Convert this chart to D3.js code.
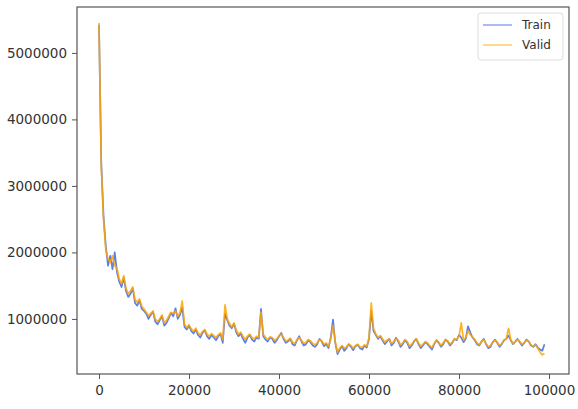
<!DOCTYPE html>
<html>
<head>
<meta charset="utf-8">
<script src="https://cdn.jsdelivr.net/npm/d3@7"></script>
<style>
  body { margin: 0; background: #fff; }
  svg text { font-family: "DejaVu Sans", sans-serif; fill: #333; }
</style>
</head>
<body>
<svg id="chart"></svg>
<script>
// training steps, every 500
var steps = d3.range(0, 99001, 500);

// loss values in thousands
var trainLoss = [
  5420, 3350, 2550, 2100, 1800, 1950, 1750, 2000,
  1700, 1560, 1480, 1620, 1420, 1330, 1380, 1460, 1240, 1200, 1280, 1150,
  1120, 1080, 1000, 1060, 1110, 960, 920, 980, 1040, 900, 940, 1010, 1090, 1040, 1160, 1000, 1060, 1170, 880, 840,
  900, 820, 780, 840, 760, 720, 790, 830, 740, 700, 760, 720, 680, 740, 770, 640,
  1080, 980, 900, 860, 930, 800, 740, 780, 700, 640, 720, 760, 690, 660, 720, 700,
  1150, 740, 690, 660, 720, 700, 640, 680, 740, 790, 700, 640, 660, 700, 620, 600,
  680, 740, 660, 600, 620, 680, 650, 600, 580, 620, 700, 660, 590, 620, 560, 720,
  990, 640, 470, 540, 590, 520, 560, 620, 580, 530, 590, 610, 560, 540, 600, 570,
  700, 1120, 820, 760, 700, 740, 680, 620, 660, 700, 600, 640, 720, 660, 580, 620,
  680, 640, 560, 600, 660, 700, 620, 560, 600, 650, 620, 580, 540, 620, 680, 640,
  580, 620, 690, 660, 600, 640, 700, 680, 760, 720, 650, 700, 890, 800, 720, 680,
  620, 600, 660, 700, 620, 560, 580, 650, 690, 640, 580, 620, 680, 700, 750, 680,
  620, 660, 700, 650, 600, 640, 690, 660, 600, 580, 620, 570, 540, 520, 620
];

var validLoss = [
  5450, 3300, 2500, 2050, 1900, 1850, 1950, 1800,
  1760, 1600, 1530, 1650, 1460, 1380, 1420, 1480, 1290, 1250, 1300, 1190,
  1150, 1100, 1050, 1080, 1120, 1000, 960, 1000, 1060, 940, 980, 1040, 1100, 1080, 1120, 1040, 1090, 1270, 920, 870,
  910, 850, 810, 860, 790, 760, 810, 840, 770, 740, 780, 750, 720, 760, 790, 690,
  1210, 1000, 930, 880, 940, 830, 770, 800, 740, 690, 740, 770, 720, 700, 740, 720,
  1100, 770, 720, 690, 730, 720, 680, 700, 740, 770, 720, 670, 680, 710, 650, 630,
  690, 720, 680, 630, 650, 690, 670, 630, 610, 640, 690, 670, 620, 640, 590, 700,
  900, 660, 500, 560, 600, 560, 580, 620, 600, 560, 600, 620, 580, 570, 610, 590,
  720, 1240, 860, 780, 720, 750, 700, 650, 680, 700, 630, 660, 710, 680, 610, 640,
  690, 660, 590, 620, 670, 700, 640, 590, 620, 660, 640, 600, 570, 630, 680, 650,
  600, 640, 690, 670, 620, 650, 700, 690, 740, 940, 680, 720, 820, 760, 730, 690,
  640, 610, 660, 690, 630, 580, 600, 650, 680, 650, 600, 630, 680, 700, 860, 690,
  630, 660, 690, 660, 620, 640, 680, 660, 610, 590, 610, 560, 500, 460, 480
];

var seriesNames = ['Train', 'Valid'];
var seriesColors = ['royalblue', 'orange'];
var yTicks = [1000000, 2000000, 3000000, 4000000, 5000000];
var xTicks = [0, 20000, 40000, 60000, 80000, 100000];

var width = 578, height = 409;
var margin = {top: 7, right: 9, bottom: 35, left: 77};

var svg = d3.select('#chart')
  .attr('width', width)
  .attr('height', height);

var series = [trainLoss, validLoss].map(function(vals, k) {
  return {
    name: seriesNames[k],
    color: seriesColors[k],
    points: vals.map(function(v, i) { return [steps[i], v * 1000]; })
  };
});

var x = d3.scaleLinear()
  .domain([-4889, 104444])
  .range([margin.left, width - margin.right]);

var y = d3.scaleLinear()
  .domain([172000, 5690000])
  .range([height - margin.bottom, margin.top]);

var line = d3.line()
  .x(function(d) { return x(d[0]); })
  .y(function(d) { return y(d[1]); });

// lines
svg.append('g')
  .selectAll('path')
  .data(series)
  .enter().append('path')
    .attr('d', function(d) { return line(d.points); })
    .attr('fill', 'none')
    .attr('stroke', function(d) { return d.color; })
    .attr('stroke-opacity', 0.85)
    .attr('stroke-width', 1.7)
    .attr('stroke-linejoin', 'round');

// axes
var xAxis = svg.append('g')
  .attr('transform', 'translate(0,' + (height - margin.bottom) + ')')
  .call(d3.axisBottom(x).tickValues(xTicks).tickFormat(d3.format('d')).tickSizeOuter(0).tickSize(5).tickPadding(6));

var yAxis = svg.append('g')
  .attr('transform', 'translate(' + margin.left + ',0)')
  .call(d3.axisLeft(y).tickValues(yTicks).tickFormat(d3.format('d')).tickSizeOuter(0).tickSize(5).tickPadding(5));

[xAxis, yAxis].forEach(function(a) {
  a.select('.domain').remove();
  a.selectAll('line').attr('stroke', '#555');
  a.selectAll('text').attr('font-size', 13.5).attr('fill', '#333');
});

// frame
svg.append('rect')
  .attr('x', margin.left)
  .attr('y', margin.top)
  .attr('width', width - margin.left - margin.right)
  .attr('height', height - margin.top - margin.bottom)
  .attr('fill', 'none')
  .attr('stroke', '#555')
  .attr('stroke-width', 1.2);

// legend
var legend = svg.append('g').attr('transform', 'translate(478,13)');
legend.append('rect')
  .attr('width', 85).attr('height', 47)
  .attr('rx', 3)
  .attr('fill', '#fff')
  .attr('stroke', '#ddd');

series.forEach(function(s, i) {
  var g = legend.append('g').attr('transform', 'translate(0,' + (12 + i * 20) + ')');
  g.append('line')
    .attr('x1', 5).attr('x2', 34)
    .attr('stroke', s.color)
    .attr('stroke-opacity', 0.6)
    .attr('stroke-width', 1.5);
  g.append('text')
    .attr('x', 44).attr('dy', '0.35em')
    .attr('font-size', 12)
    .text(s.name);
});
</script>
</body>
</html>
